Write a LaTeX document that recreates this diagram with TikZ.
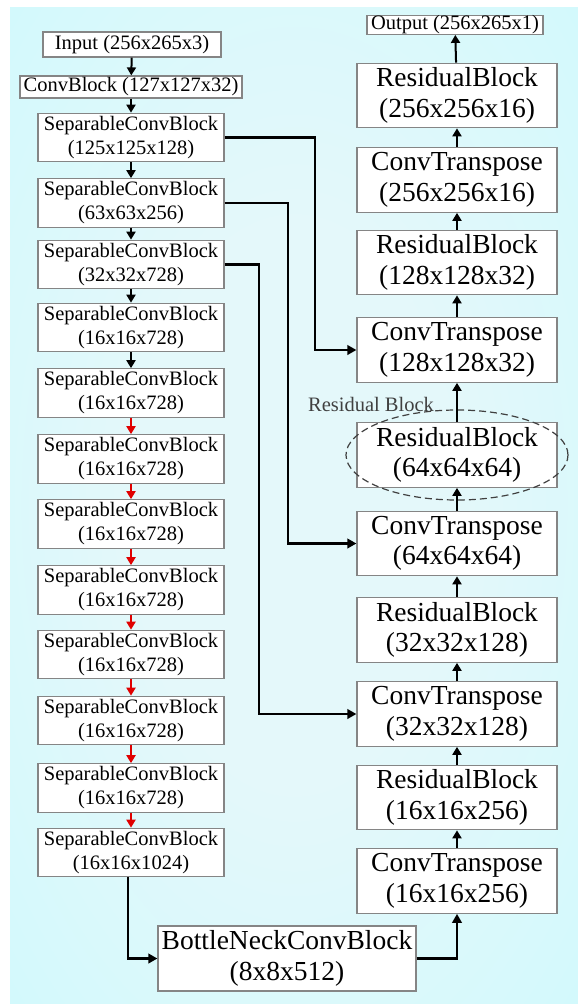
\documentclass[tikz,border=0pt]{standalone}
\usepackage{fontspec}
\setmainfont{Liberation Serif}
\usetikzlibrary{arrows.meta,shapes.geometric}

\definecolor{bgin}{HTML}{E4F8FA}
\definecolor{bgmid}{HTML}{D4F9FC}
\definecolor{bgout}{HTML}{C2FCFF}
\definecolor{boxline}{HTML}{858585}
\definecolor{flowred}{HTML}{E00000}
\definecolor{notegray}{HTML}{404040}
\pgfdeclareradialshading{bgglow}{\pgfpoint{0bp}{0bp}}{color(0bp)=(bgin); color(14bp)=(bgin); color(34bp)=(bgmid); color(50bp)=(bgout)}

\begin{document}
\begin{tikzpicture}[x=1bp,y=-1bp,
  blk/.style={draw=boxline, line width=1.2bp, fill=white, inner sep=0pt, align=center},
  smallfont/.style={font=\fontsize{20.5bp}{24bp}\selectfont},
  bigfont/.style={font=\fontsize{27.5bp}{30.5bp}\selectfont},
  enc/.style={blk, smallfont, minimum width=186bp, minimum height=48.5bp},
  dec/.style={blk, bigfont, minimum width=200bp, minimum height=64.5bp},
  flow/.style={line width=2bp, -{Triangle[length=8bp,width=9bp]}},
  redflow/.style={flow, color=flowred},
  skip/.style={line width=2.2bp, -{Triangle[length=9bp,width=9.5bp]}}
]
\useasboundingbox (0,0) rectangle (578,1006);
% page background
\shade[shading=bgglow] (10,7) rectangle (578,1003);

% encoder column
\node[blk, smallfont, minimum width=178bp, minimum height=25bp] (in) at (132,44.5) {Input (256x265x3)};
\node[blk, smallfont, minimum width=222bp, minimum height=22bp] (cb) at (131,87) {ConvBlock (127x127x32)};
\node[enc] (s1)  at (131,137.5) {SeparableConvBlock\\(125x125x128)};
\node[enc] (s2)  at (131,203)   {SeparableConvBlock\\(63x63x256)};
\node[enc] (s3)  at (131,264.5) {SeparableConvBlock\\(32x32x728)};
\node[enc] (s4)  at (131,327.5) {SeparableConvBlock\\(16x16x728)};
\node[enc] (s5)  at (131,393)   {SeparableConvBlock\\(16x16x728)};
\node[enc] (s6)  at (131,459)   {SeparableConvBlock\\(16x16x728)};
\node[enc] (s7)  at (131,524)   {SeparableConvBlock\\(16x16x728)};
\node[enc] (s8)  at (131,590)   {SeparableConvBlock\\(16x16x728)};
\node[enc] (s9)  at (131,654.5) {SeparableConvBlock\\(16x16x728)};
\node[enc] (s10) at (131,720.5) {SeparableConvBlock\\(16x16x728)};
\node[enc] (s11) at (131,788)   {SeparableConvBlock\\(16x16x728)};
\node[enc] (s12) at (131,852.5) {SeparableConvBlock\\(16x16x1024)};

% bottleneck
\node[blk, bigfont, minimum width=258bp, minimum height=65bp] (bn) at (287,958.5) {BottleNeckConvBlock\\(8x8x512)};

% decoder column
\node[blk, smallfont, minimum width=176bp, minimum height=18bp] (out) at (455,25) {Output (256x265x1)};
\node[dec] (rb256) at (457,95.5)  {ResidualBlock\\(256x256x16)};
\node[dec] (ct256) at (457,180)   {ConvTranspose\\(256x256x16)};
\node[dec] (rb128) at (457,262.5) {ResidualBlock\\(128x128x32)};
\node[dec] (ct128) at (457,350)   {ConvTranspose\\(128x128x32)};
\node[dec] (rb64)  at (457,455)   {ResidualBlock\\(64x64x64)};
\node[dec] (ct64)  at (457,543.5) {ConvTranspose\\(64x64x64)};
\node[dec] (rb32)  at (457,630)   {ResidualBlock\\(32x32x128)};
\node[dec] (ct32)  at (457,714)   {ConvTranspose\\(32x32x128)};
\node[dec] (rb16)  at (457,797.5) {ResidualBlock\\(16x16x256)};
\node[dec] (ct16)  at (457,881)   {ConvTranspose\\(16x16x256)};

% highlighted residual block
\node[draw=notegray, line width=1.2bp, dash pattern=on 7bp off 4bp, ellipse,
      minimum width=222bp, minimum height=90bp] (ring) at (rb64) {};
\node[smallfont, text=notegray, inner sep=0pt] (ringlabel) at (371,404) {Residual Block};

% encoder flow
\draw[flow] (in) -- (cb);
\draw[flow] (cb) -- (s1);
\draw[flow] (s1) -- (s2);
\draw[flow] (s2) -- (s3);
\draw[flow] (s3) -- (s4);
\draw[flow] (s4) -- (s5);
\draw[redflow] (s5) -- (s6);
\draw[redflow] (s6) -- (s7);
\draw[redflow] (s7) -- (s8);
\draw[redflow] (s8) -- (s9);
\draw[redflow] (s9) -- (s10);
\draw[redflow] (s10) -- (s11);
\draw[redflow] (s11) -- (s12);
\draw[skip] ([xshift=-3bp]s12.south) |- (bn.west);

% decoder flow
\draw[skip] (bn.east) -| (ct16.south);
\draw[flow] (ct16) -- (rb16);
\draw[flow] (rb16) -- (ct32);
\draw[flow] (ct32) -- (rb32);
\draw[flow] (rb32) -- (ct64);
\draw[flow] (ct64) -- (rb64);
\draw[flow] (rb64) -- (ct128);
\draw[flow] (ct128) -- (rb128);
\draw[flow] (rb128) -- (ct256);
\draw[flow] (ct256) -- (rb256);
\draw[flow] (rb256) -- (out);

% skip connections
\draw[skip] (s1.east) -- ++(90,0) |- (ct128.west);
\draw[skip] (s2.east) -- ++(63,0) |- (ct64.west);
\draw[skip] (s3.east) -- ++(34,0) |- (ct32.west);
\end{tikzpicture}
\end{document}
